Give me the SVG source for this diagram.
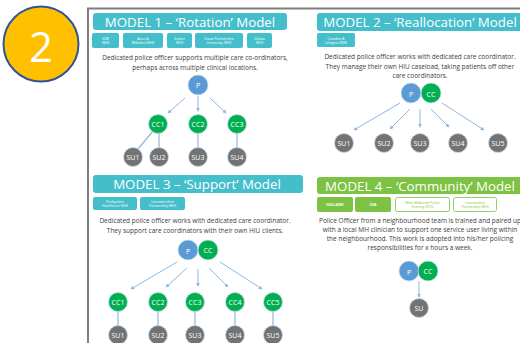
<svg xmlns="http://www.w3.org/2000/svg" width="520" height="343" viewBox="0 0 520 343">
<defs>
<marker id="ah" viewBox="0 0 6 6" refX="5" refY="3" markerWidth="4" markerHeight="4" orient="auto">
<path d="M0,0 L6,3 L0,6 z" fill="#8FB8E0"/>
</marker>
<style>
.t{font-family:"Open Sans","Liberation Sans",sans-serif;}
.title{font-size:13.3px;fill:#fff;text-anchor:middle;}
.desc{font-size:6.5px;fill:#404040;text-anchor:middle;}
.tag{font-size:3.5px;fill:#fff;text-anchor:middle;}
.tagg{font-size:3.5px;fill:#7DC242;text-anchor:middle;}
.nt{font-size:7px;fill:#fff;text-anchor:middle;}
.teal{fill:#45BECB;}
.green{fill:#7DC242;}
.p{fill:#5B9BD5;stroke:#C5DAF0;stroke-width:0.8;}
.cc{fill:#00B050;stroke:#C5DAF0;stroke-width:0.8;}
.su{fill:#737373;stroke:#C5DAF0;stroke-width:0.8;}
.arr{stroke:#8FB8E0;stroke-width:1;fill:none;marker-end:url(#ah);}
.ln{stroke:#8FB8E0;stroke-width:1.2;fill:none;}
</style>
</defs>
<rect width="520" height="343" fill="#fff"/>
<g id="badge">
<circle cx="41" cy="44" r="37.5" fill="#FFC000" stroke="#2F5597" stroke-width="2"/>
<text x="41" y="62" class="t" font-size="42" fill="#fff" text-anchor="middle">2</text>
</g>
<g id="frame">
<path d="M88,343 V8.5 H520" fill="none" stroke="#7F7F7F" stroke-width="2"/>
</g>

<g id="model1">
<rect x="93" y="13" width="194" height="17" rx="3" class="teal"/>
<text x="190" y="26.5" class="t title">MODEL 1 – ‘Rotation’ Model</text>
<rect x="92" y="33" width="27" height="15" rx="2" class="teal"/>
<text x="105.5" y="40" class="t tag">IOW<tspan x="105.5" dy="4.2">NHS</tspan></text>
<rect x="123" y="33" width="40" height="15" rx="2" class="teal"/>
<text x="143" y="40" class="t tag">Avon &amp;<tspan x="143" dy="4.2">Wiltshire NHS</tspan></text>
<rect x="167" y="33" width="25" height="15" rx="2" class="teal"/>
<text x="179.5" y="40" class="t tag">Solent<tspan x="179.5" dy="4.2">NHS</tspan></text>
<rect x="195" y="33" width="48" height="15" rx="2" class="teal"/>
<text x="219" y="40" class="t tag">Essex Partnership<tspan x="219" dy="4.2">University NHS</tspan></text>
<rect x="247" y="33" width="25" height="15" rx="2" class="teal"/>
<text x="259.5" y="40" class="t tag">Oxleas<tspan x="259.5" dy="4.2">NHS</tspan></text>
<text x="195" y="60" class="t desc">Dedicated police officer supports multiple care co-ordinators,<tspan x="195" dy="10">perhaps across multiple clinical locations.</tspan></text>
</g>

<g id="model2">
<rect x="317" y="13" width="215" height="18" rx="3" class="teal"/>
<text x="420" y="27" class="t title">MODEL 2 – ‘Reallocation’ Model</text>
<rect x="317" y="33" width="38" height="14" rx="2" class="teal"/>
<text x="336" y="39.5" class="t tag">Camden &amp;<tspan x="336" dy="4.2">Islington NHS</tspan></text>
<text x="420" y="59" class="t desc">Dedicated police officer works with dedicated care coordinator.<tspan x="420" dy="9.5">They manage their own HIU caseload, taking patients off other</tspan><tspan x="420" dy="9.5">care coordinators.</tspan></text>
</g>

<g id="model3">
<rect x="93" y="175" width="210" height="18" rx="3" class="teal"/>
<text x="197" y="189" class="t title">MODEL 3 – ‘Support’ Model</text>
<rect x="93" y="197" width="44" height="13" rx="2" class="teal"/>
<text x="115" y="202.7" class="t tag">Derbyshire<tspan x="115" dy="4.2">Healthcare NHS</tspan></text>
<rect x="140" y="197" width="45" height="13" rx="2" class="teal"/>
<text x="162.5" y="202.7" class="t tag">Leicestershire<tspan x="162.5" dy="4.2">Partnership NHS</tspan></text>
<text x="195" y="223" class="t desc">Dedicated police officer works with dedicated care coordinator.<tspan x="195" dy="10">They support care coordinators with their own HIU clients.</tspan></text>
</g>

<g id="model4">
<rect x="317" y="177" width="210" height="17" rx="3" class="green"/>
<text x="420" y="190.5" class="t title">MODEL 4 – ‘Community’ Model</text>
<rect x="317" y="197" width="36" height="15" rx="2" class="green"/>
<text x="335" y="205.8" class="t tag" font-weight="bold">HOLLAND</text>
<rect x="355" y="197" width="36" height="15" rx="2" class="green"/>
<text x="373" y="205.8" class="t tag" font-weight="bold">USA</text>
<rect x="395.5" y="197.5" width="54" height="14" rx="2" fill="#fff" stroke="#7DC242" stroke-width="0.8"/>
<text x="422.5" y="203.5" class="t tagg">West Midlands Police<tspan x="422.5" dy="4.2">Evening 2016</tspan></text>
<rect x="453.5" y="197.5" width="43" height="14" rx="2" fill="#fff" stroke="#7DC242" stroke-width="0.8"/>
<text x="475" y="203.5" class="t tagg">Lincolnshire<tspan x="475" dy="4.2">Partnership NHS</tspan></text>
<text x="420" y="223" class="t desc" font-size="6.6">Police Officer from a neighbourhood team is trained and paired up<tspan x="420" dy="9">with a local MH clinician to support one service user living within</tspan><tspan x="420" dy="9">the neighbourhood. This work is adopted into his/her policing</tspan><tspan x="420" dy="9">responsibilities for x hours a week.</tspan></text>
</g>

<g id="connectors">
<line x1="185" y1="98" x2="168" y2="113" class="arr"/>
<line x1="198" y1="96" x2="198" y2="111" class="arr"/>
<line x1="210" y1="98" x2="226" y2="113" class="arr"/>
<line x1="153" y1="131" x2="138" y2="149" class="ln"/>
<line x1="159" y1="133" x2="159" y2="148" class="ln"/>
<line x1="198" y1="133" x2="198" y2="148" class="ln"/>
<line x1="237" y1="133" x2="237" y2="148" class="ln"/>

<line x1="400" y1="103" x2="354" y2="130" class="arr"/>
<line x1="410" y1="109" x2="390" y2="129" class="arr"/>
<line x1="420" y1="109" x2="420" y2="127" class="arr"/>
<line x1="431" y1="109" x2="449" y2="127" class="arr"/>
<line x1="442" y1="103" x2="484" y2="130" class="arr"/>

<line x1="177" y1="262" x2="131" y2="289" class="arr"/>
<line x1="187" y1="268" x2="166" y2="287" class="arr"/>
<line x1="198" y1="269" x2="198" y2="286" class="arr"/>
<line x1="209" y1="268" x2="228" y2="287" class="arr"/>
<line x1="220" y1="262" x2="262" y2="289" class="arr"/>
<line x1="118" y1="311" x2="118" y2="326" class="ln"/>
<line x1="158" y1="311" x2="158" y2="326" class="ln"/>
<line x1="195" y1="311" x2="195" y2="326" class="ln"/>
<line x1="235" y1="311" x2="235" y2="326" class="ln"/>
<line x1="273" y1="311" x2="273" y2="326" class="ln"/>

<line x1="419" y1="281" x2="419" y2="297" class="arr"/>
</g>

<g id="m1-P"><circle cx="198" cy="85" r="10" class="p"/><text x="198" y="88" class="t nt" font-size="9">P</text></g>
<g id="m1-CC1"><circle cx="158" cy="124" r="9.5" class="cc"/><text x="158" y="126.5" class="t nt">CC1</text></g>
<g id="m1-CC2"><circle cx="198" cy="124" r="9.5" class="cc"/><text x="198" y="126.5" class="t nt">CC2</text></g>
<g id="m1-CC3"><circle cx="237" cy="124" r="9.5" class="cc"/><text x="237" y="126.5" class="t nt">CC3</text></g>
<g id="m1-SU1"><circle cx="133" cy="157" r="9.5" class="su"/><text x="133" y="159.5" class="t nt">SU1</text></g>
<g id="m1-SU2"><circle cx="159" cy="157" r="9.5" class="su"/><text x="159" y="159.5" class="t nt">SU2</text></g>
<g id="m1-SU3"><circle cx="198" cy="157" r="9.5" class="su"/><text x="198" y="159.5" class="t nt">SU3</text></g>
<g id="m1-SU4"><circle cx="237" cy="157" r="9.5" class="su"/><text x="237" y="159.5" class="t nt">SU4</text></g>

<g id="m2-P"><circle cx="411" cy="93" r="10" class="p"/><text x="411" y="96.5" class="t nt" font-size="10">P</text></g>
<g id="m2-CC"><circle cx="431" cy="93" r="10" class="cc"/><text x="431" y="96.5" class="t nt" font-size="9.5">CC</text></g>
<g id="m2-SU1"><circle cx="344" cy="143" r="9.5" class="su"/><text x="344" y="145.5" class="t nt">SU1</text></g>
<g id="m2-SU2"><circle cx="384" cy="143" r="9.5" class="su"/><text x="384" y="145.5" class="t nt">SU2</text></g>
<g id="m2-SU3"><circle cx="420" cy="143" r="9.5" class="su"/><text x="420" y="145.5" class="t nt">SU3</text></g>
<g id="m2-SU4"><circle cx="458" cy="143" r="9.5" class="su"/><text x="458" y="145.5" class="t nt">SU4</text></g>
<g id="m2-SU5"><circle cx="498" cy="143" r="9.5" class="su"/><text x="498" y="145.5" class="t nt">SU5</text></g>

<g id="m3-P"><circle cx="188" cy="250" r="10" class="p"/><text x="188" y="253.5" class="t nt" font-size="10">P</text></g>
<g id="m3-CC"><circle cx="208" cy="250" r="10" class="cc"/><text x="208" y="252.5" class="t nt">CC</text></g>
<g id="m3-CC1"><circle cx="118" cy="302" r="9.5" class="cc"/><text x="118" y="304.5" class="t nt">CC1</text></g>
<g id="m3-CC2"><circle cx="158" cy="302" r="9.5" class="cc"/><text x="158" y="304.5" class="t nt">CC2</text></g>
<g id="m3-CC3"><circle cx="195" cy="302" r="9.5" class="cc"/><text x="195" y="304.5" class="t nt">CC3</text></g>
<g id="m3-CC4"><circle cx="235" cy="302" r="9.5" class="cc"/><text x="235" y="304.5" class="t nt">CC4</text></g>
<g id="m3-CC5"><circle cx="273" cy="302" r="9.5" class="cc"/><text x="273" y="304.5" class="t nt">CC5</text></g>
<g id="m3-SU1"><circle cx="118" cy="335" r="9.5" class="su"/><text x="118" y="337.5" class="t nt">SU1</text></g>
<g id="m3-SU2"><circle cx="158" cy="335" r="9.5" class="su"/><text x="158" y="337.5" class="t nt">SU2</text></g>
<g id="m3-SU3"><circle cx="195" cy="335" r="9.5" class="su"/><text x="195" y="337.5" class="t nt">SU3</text></g>
<g id="m3-SU4"><circle cx="235" cy="335" r="9.5" class="su"/><text x="235" y="337.5" class="t nt">SU4</text></g>
<g id="m3-SU5"><circle cx="273" cy="335" r="9.5" class="su"/><text x="273" y="337.5" class="t nt">SU5</text></g>

<g id="m4-P"><circle cx="409" cy="271" r="10" class="p"/><text x="409" y="274.5" class="t nt" font-size="10">P</text></g>
<g id="m4-CC"><circle cx="428" cy="271" r="10" class="cc"/><text x="428" y="273.5" class="t nt">CC</text></g>
<g id="m4-SU"><circle cx="419" cy="308" r="9.5" class="su"/><text x="419" y="310.5" class="t nt">SU</text></g>
</svg>
